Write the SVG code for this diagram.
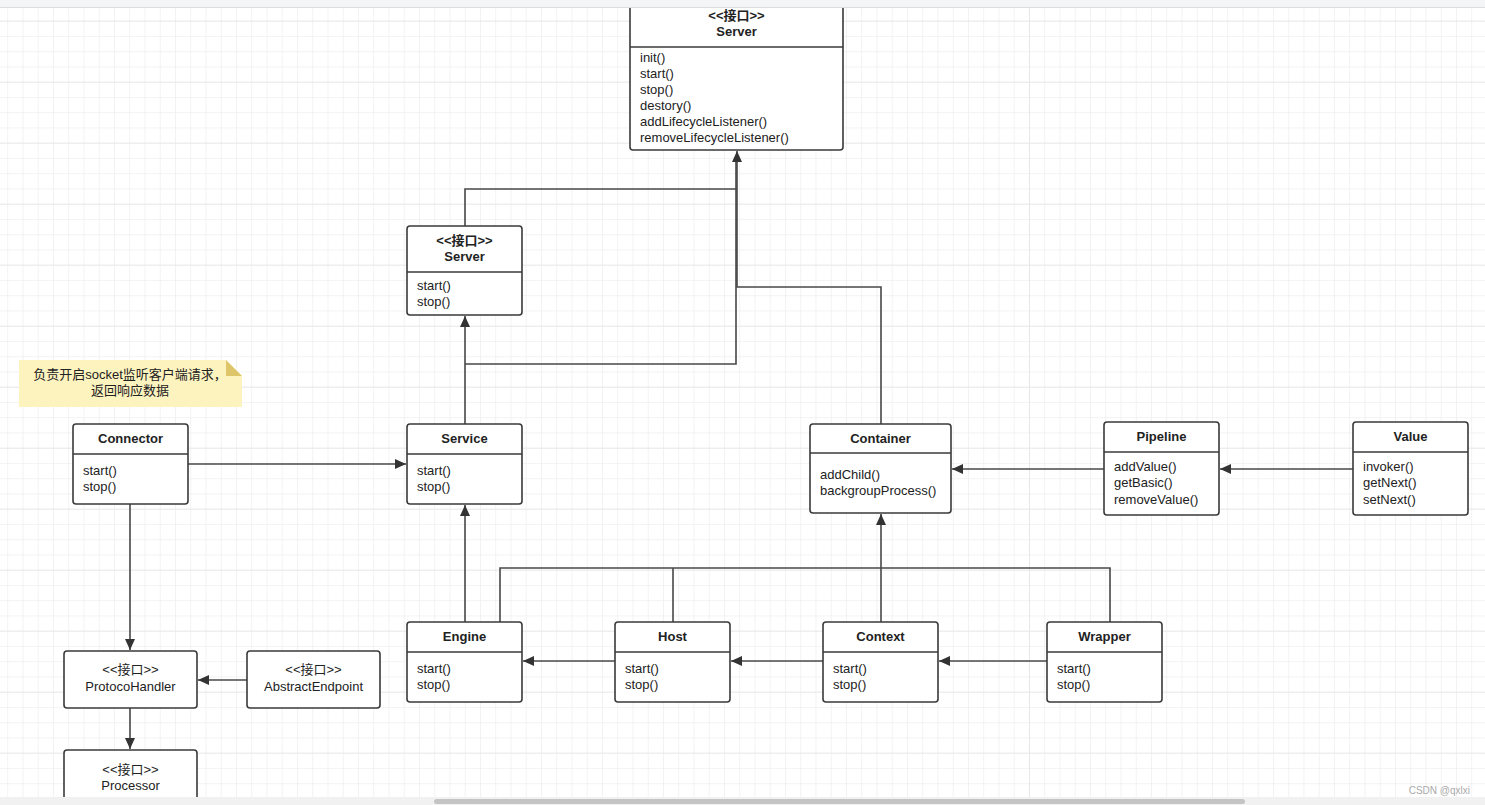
<svg xmlns="http://www.w3.org/2000/svg" width="1485" height="805" viewBox="0 0 1485 805">
<defs>
<pattern id="minor" x="-8" y="20.7" width="15.25" height="15.25" patternUnits="userSpaceOnUse">
<path d="M0 0V15.25M0 0H15.25" fill="none" stroke="#efefef" stroke-width="1.5"/>
</pattern>
<pattern id="major" x="-8" y="20.7" width="61" height="61" patternUnits="userSpaceOnUse">
<path d="M0 0V61M0 0H61" fill="none" stroke="#e6e6e6" stroke-width="1.7"/>
</pattern>
<marker id="arr" markerWidth="12" markerHeight="10" refX="11" refY="5" orient="auto" markerUnits="userSpaceOnUse">
<path d="M0 0L11 5L0 10Z" fill="#333"/>
</marker>
</defs>
<style>
.box{fill:#fff;stroke:#3a3a3a;stroke-width:1.6}
.sep{stroke:#3a3a3a;stroke-width:1.6}
.t{font-family:"Liberation Sans","Noto Sans CJK SC",sans-serif;font-size:13px;fill:#222}
.b{font-weight:bold;text-anchor:middle}
.c{text-anchor:middle}
.ln{fill:none;stroke:#484848;stroke-width:1.6}
</style>
<rect width="1485" height="805" fill="#fff"/>
<rect width="1485" height="805" fill="url(#minor)"/>
<rect width="1485" height="805" fill="url(#major)"/>

<g id="connectors">
<path class="ln" d="M188 464H406" marker-end="url(#arr)"/>
<path class="ln" d="M130 504V650" marker-end="url(#arr)"/>
<path class="ln" d="M247 680H198" marker-end="url(#arr)"/>
<path class="ln" d="M130 708V749" marker-end="url(#arr)"/>
<path class="ln" d="M465 424V316" marker-end="url(#arr)"/>
<path class="ln" d="M465 364H736V160"/>
<path class="ln" d="M465 226V189H736"/>
<path class="ln" d="M881 424V287H737V151" marker-end="url(#arr)"/>
<path class="ln" d="M1104 469H952" marker-end="url(#arr)"/>
<path class="ln" d="M1353 469H1220" marker-end="url(#arr)"/>
<path class="ln" d="M465 622V505" marker-end="url(#arr)"/>
<path class="ln" d="M500 622V568H1110V622"/>
<path class="ln" d="M673 622V568"/>
<path class="ln" d="M881 622V514" marker-end="url(#arr)"/>
<path class="ln" d="M615 661H523" marker-end="url(#arr)"/>
<path class="ln" d="M823 661H731" marker-end="url(#arr)"/>
<path class="ln" d="M1047 661H939" marker-end="url(#arr)"/>
</g>

<g id="server-top">
<rect class="box" x="630" y="-6" width="213" height="156" rx="3"/>
<line class="sep" x1="630" y1="47" x2="843" y2="47"/>
<text class="t b" x="736.5" y="20">&lt;&lt;接口&gt;&gt;</text>
<text class="t b" x="736.5" y="36">Server</text>
<text class="t" x="640" y="62">init()</text>
<text class="t" x="640" y="78">start()</text>
<text class="t" x="640" y="94">stop()</text>
<text class="t" x="640" y="110">destory()</text>
<text class="t" x="640" y="126">addLifecycleListener()</text>
<text class="t" x="640" y="142">removeLifecycleListener()</text>
</g>

<g id="server-2">
<rect class="box" x="407" y="226" width="115" height="89" rx="3"/>
<line class="sep" x1="407" y1="272" x2="522" y2="272"/>
<text class="t b" x="464.5" y="245">&lt;&lt;接口&gt;&gt;</text>
<text class="t b" x="464.5" y="261">Server</text>
<text class="t" x="417" y="290">start()</text>
<text class="t" x="417" y="306">stop()</text>
</g>

<g id="note">
<path d="M19 360H226L242 376V407H19Z" fill="#fdf3bf"/>
<path d="M226 360L242 376H226Z" fill="#dfc56a"/>
<text class="t c" x="130" y="379">负责开启socket监听客户端请求，</text>
<text class="t c" x="130" y="395">返回响应数据</text>
</g>

<g id="connector">
<rect class="box" x="73" y="424" width="115" height="80" rx="3"/>
<line class="sep" x1="73" y1="454" x2="188" y2="454"/>
<text class="t b" x="130.5" y="443">Connector</text>
<text class="t" x="83" y="475">start()</text>
<text class="t" x="83" y="491">stop()</text>
</g>

<g id="service">
<rect class="box" x="407" y="424" width="115" height="80" rx="3"/>
<line class="sep" x1="407" y1="454" x2="522" y2="454"/>
<text class="t b" x="464.5" y="443">Service</text>
<text class="t" x="417" y="475">start()</text>
<text class="t" x="417" y="491">stop()</text>
</g>

<g id="container">
<rect class="box" x="810" y="424" width="141" height="89" rx="3"/>
<line class="sep" x1="810" y1="453" x2="951" y2="453"/>
<text class="t b" x="880.5" y="443">Container</text>
<text class="t" x="820" y="479">addChild()</text>
<text class="t" x="820" y="495">backgroupProcess()</text>
</g>

<g id="pipeline">
<rect class="box" x="1104" y="422" width="115" height="93" rx="3"/>
<line class="sep" x1="1104" y1="452" x2="1219" y2="452"/>
<text class="t b" x="1161.5" y="441">Pipeline</text>
<text class="t" x="1114" y="471">addValue()</text>
<text class="t" x="1114" y="487">getBasic()</text>
<text class="t" x="1114" y="504">removeValue()</text>
</g>

<g id="value">
<rect class="box" x="1353" y="422" width="115" height="93" rx="3"/>
<line class="sep" x1="1353" y1="452" x2="1468" y2="452"/>
<text class="t b" x="1410.5" y="441">Value</text>
<text class="t" x="1363" y="471">invoker()</text>
<text class="t" x="1363" y="487">getNext()</text>
<text class="t" x="1363" y="504">setNext()</text>
</g>

<g id="engine">
<rect class="box" x="407" y="622" width="115" height="80" rx="3"/>
<line class="sep" x1="407" y1="652" x2="522" y2="652"/>
<text class="t b" x="464.5" y="641">Engine</text>
<text class="t" x="417" y="673">start()</text>
<text class="t" x="417" y="689">stop()</text>
</g>

<g id="host">
<rect class="box" x="615" y="622" width="115" height="80" rx="3"/>
<line class="sep" x1="615" y1="652" x2="730" y2="652"/>
<text class="t b" x="672.5" y="641">Host</text>
<text class="t" x="625" y="673">start()</text>
<text class="t" x="625" y="689">stop()</text>
</g>

<g id="context">
<rect class="box" x="823" y="622" width="115" height="80" rx="3"/>
<line class="sep" x1="823" y1="652" x2="938" y2="652"/>
<text class="t b" x="880.5" y="641">Context</text>
<text class="t" x="833" y="673">start()</text>
<text class="t" x="833" y="689">stop()</text>
</g>

<g id="wrapper">
<rect class="box" x="1047" y="622" width="115" height="80" rx="3"/>
<line class="sep" x1="1047" y1="652" x2="1162" y2="652"/>
<text class="t b" x="1104.5" y="641">Wrapper</text>
<text class="t" x="1057" y="673">start()</text>
<text class="t" x="1057" y="689">stop()</text>
</g>

<g id="protocohandler">
<rect class="box" x="64" y="651" width="133" height="57" rx="3"/>
<text class="t c" x="130.5" y="674">&lt;&lt;接口&gt;&gt;</text>
<text class="t c" x="130.5" y="691">ProtocoHandler</text>
</g>

<g id="abstractendpoint">
<rect class="box" x="247" y="651" width="133" height="57" rx="3"/>
<text class="t c" x="313.5" y="674">&lt;&lt;接口&gt;&gt;</text>
<text class="t c" x="313.5" y="691">AbstractEndpoint</text>
</g>

<g id="processor">
<rect class="box" x="64" y="750" width="133" height="70" rx="3"/>
<text class="t c" x="130.5" y="774">&lt;&lt;接口&gt;&gt;</text>
<text class="t c" x="130.5" y="790">Processor</text>
</g>

<rect x="0" y="0" width="1485" height="7" fill="#f4f5f7"/>
<line x1="0" y1="7.5" x2="1485" y2="7.5" stroke="#dadce0" stroke-width="1"/>
<rect x="0" y="797" width="1485" height="8" fill="#f1f1f1"/>
<rect x="434" y="799" width="811" height="5" rx="2.5" fill="#c4c4c4"/>
<text x="1470" y="794" text-anchor="end" font-family="Liberation Sans, sans-serif" font-size="10" fill="#aaaaaa">CSDN @qxlxi</text>
</svg>
